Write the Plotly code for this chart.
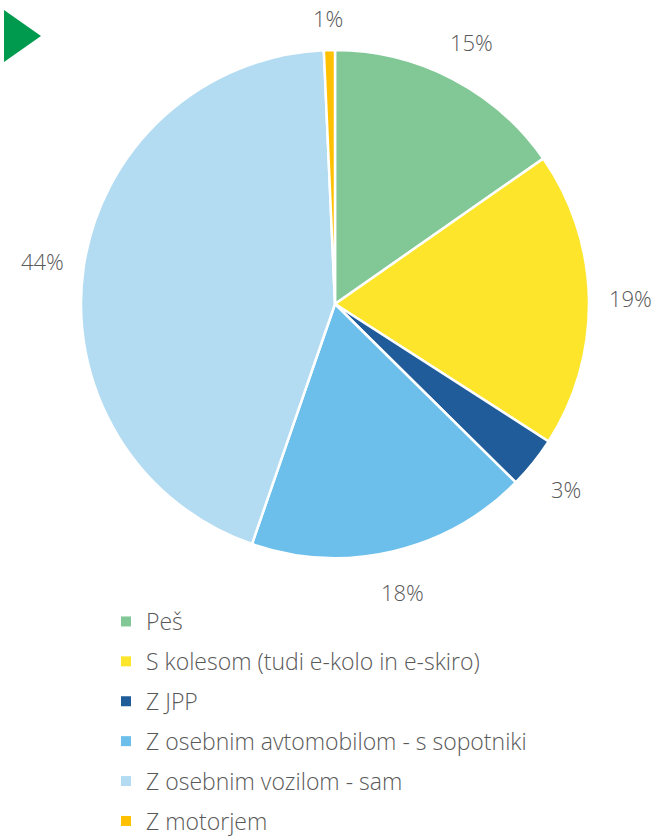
import math
import plotly.graph_objects as go

# Način prihoda – delež odgovorov
categories = [
    "Peš",
    "S kolesom (tudi e-kolo in e-skiro)",
    "Z JPP",
    "Z osebnim avtomobilom - s sopotniki",
    "Z osebnim vozilom - sam",
    "Z motorjem",
]
shares = [15.3, 18.8, 3.3, 17.9, 44.0, 0.7]
colors = ["#82C896", "#FCE52B", "#1F5C99", "#6BBFEA", "#B3DCF2", "#FFC000"]

W, H = 658, 838
TEXT = "#595959"
FONT = "Open Sans"

# pie placement in pixels
cx, cy, r = 335, 304, 254
label_r = 296

fig = go.Figure()

fig.add_trace(go.Pie(
    labels=categories,
    values=shares,
    sort=False,
    direction="clockwise",
    rotation=0,
    marker=dict(colors=colors, line=dict(color="white", width=2.5)),
    textinfo="none",
    hoverinfo="label+percent",
    showlegend=False,
    domain=dict(x=[(cx - r) / W, (cx + r) / W], y=[1 - (cy + r) / H, 1 - (cy - r) / H]),
))

# percentage labels placed around the pie at each slice's mid-angle
total = sum(shares)
cum = 0.0
for v in shares:
    mid = (cum + v / 2) / total * 2 * math.pi
    cum += v
    px = cx + label_r * math.sin(mid)
    py = max(cy - label_r * math.cos(mid), 18)
    fig.add_annotation(
        x=px / W, y=1 - py / H, xref="paper", yref="paper",
        text=f"{round(v / total * 100)}%", showarrow=False,
        xanchor="center", yanchor="middle",
        font=dict(family=FONT, size=22, color=TEXT, weight=300),
    )

# legend entries (square swatches)
for i, (name, col) in enumerate(zip(categories, colors)):
    fig.add_trace(go.Scatter(
        x=[None], y=[None], mode="markers", name=name,
        marker=dict(symbol="square", size=10, color=col),
        legendgroup=f"g{i}", showlegend=True, hoverinfo="skip",
    ))

# arrow marker in the top-left corner
fig.add_shape(
    type="path", xref="paper", yref="paper",
    path=f"M {4/W} {1-10/H} L {4/W} {1-62/H} L {41/W} {1-36/H} Z",
    fillcolor="#009A4E", line=dict(width=0),
)

fig.update_layout(
    width=W, height=H,
    margin=dict(l=0, r=0, t=0, b=0, autoexpand=False),
    paper_bgcolor="white", plot_bgcolor="white",
    xaxis=dict(visible=False), yaxis=dict(visible=False),
    font=dict(family=FONT, color=TEXT),
    legend=dict(
        x=106 / W, y=1 - 600 / H, xanchor="left", yanchor="top",
        orientation="v", tracegroupgap=7, itemwidth=30,
        font=dict(family=FONT, size=23, color=TEXT, weight=300),
        bgcolor="rgba(0,0,0,0)",
    ),
)

fig.write_html("out.html")
